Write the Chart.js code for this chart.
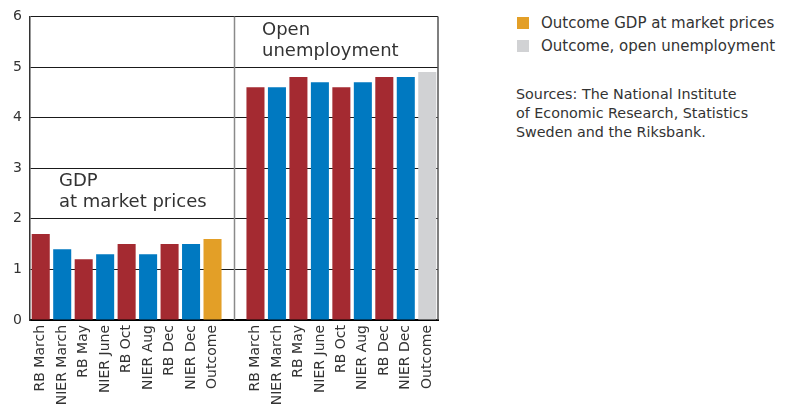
<!DOCTYPE html>
<html>
<head>
<meta charset="utf-8">
<script src="https://cdn.jsdelivr.net/npm/chart.js@4/dist/chart.umd.min.js"></script>
<style>
  body{margin:0;background:#fff;font-family:"DejaVu Sans",sans-serif;color:#333;}
  #wrap{position:relative;width:790px;height:405px;overflow:hidden;}
  #box{position:absolute;left:0;top:0;width:450px;height:405px;}
  .note{position:absolute;color:#333;white-space:nowrap;}
  .leg{position:absolute;left:517px;font-size:15px;line-height:20px;color:#333;white-space:nowrap;}
  .leg span{display:inline-block;width:12px;height:12px;margin-right:12px;vertical-align:-1px;}
</style>
</head>
<body>
<div id="wrap">
  <div id="box"><canvas id="chart"></canvas></div>
  <div class="note" style="left:59px;top:169px;font-size:18px;line-height:21px;">GDP<br>at market prices</div>
  <div class="note" style="left:262px;top:18px;font-size:18px;line-height:21px;">Open<br>unemployment</div>
  <div class="leg" style="top:13px;"><span style="background:#e39f27"></span>Outcome GDP at market prices</div>
  <div class="leg" style="top:36px;"><span style="background:#d1d2d4"></span>Outcome, open unemployment</div>
  <div class="note" style="left:516px;top:85px;font-size:14.3px;line-height:19px;">Sources: The National Institute<br>of Economic Research, Statistics<br>Sweden and the Riksbank.</div>
</div>
<script>
const forecastLabels = ["RB March","NIER March","RB May","NIER June","RB Oct","NIER Aug","RB Dec","NIER Dec","Outcome"];
const gdpValues   = [1.7, 1.4, 1.2, 1.3, 1.5, 1.3, 1.5, 1.5, 1.6];
const unempValues = [4.6, 4.6, 4.8, 4.7, 4.6, 4.7, 4.8, 4.8, 4.9];
const yTicks = [0, 1, 2, 3, 4, 5, 6];

const RED = "#a42a31", BLUE = "#0079c1", ORANGE = "#e39f27", GREY = "#d1d2d4";

// colours: RB red, NIER blue, outcome orange/grey
function colourFor(lbl, outcome){
  if(lbl === "Outcome") return outcome;
  return lbl.startsWith("RB") ? RED : BLUE;
}

const labels = [...forecastLabels, "", ...forecastLabels];
const values = [...gdpValues, null, ...unempValues];
const colours = [
  ...forecastLabels.map(l=>colourFor(l, ORANGE)),
  "rgba(0,0,0,0)",
  ...forecastLabels.map(l=>colourFor(l, GREY))
];

// divider between the two groups + right border of the plot
const framePlugin = {
  id: "frame",
  beforeDatasetsDraw(chart){
    const {ctx, chartArea, scales} = chart;
    const xMid = Math.round(scales.x.getPixelForValue(forecastLabels.length)) + 0.5;
    ctx.save();
    ctx.strokeStyle = "#8a8a8a";
    ctx.lineWidth = 1.5;
    ctx.beginPath();
    ctx.moveTo(xMid, chartArea.top);
    ctx.lineTo(xMid, chartArea.bottom);
    ctx.stroke();
    ctx.strokeStyle = "#555";
    ctx.lineWidth = 1.5;
    ctx.beginPath();
    ctx.moveTo(chartArea.right, chartArea.top);
    ctx.lineTo(chartArea.right, chartArea.bottom);
    ctx.stroke();
    ctx.restore();
  }
};

new Chart(document.getElementById("chart").getContext("2d"), {
  type: "bar",
  data: {
    labels: labels,
    datasets: [{
      data: values,
      backgroundColor: colours,
      barPercentage: 0.84,
      categoryPercentage: 1.0
    }]
  },
  options: {
    responsive: true,
    maintainAspectRatio: false,
    animation: false,
    layout: { padding: { top: 16, right: 12, left: 0, bottom: 0 } },
    plugins: { legend: { display: false }, tooltip: { enabled: false } },
    scales: {
      x: {
        grid: { display: false, drawTicks: false },
        border: { color: "#000", width: 2 },
        ticks: {
          autoSkip: false, minRotation: 90, maxRotation: 90, padding: 5,
          color: "#333", font: { family: "DejaVu Sans", size: 14 }
        },
        afterFit(scale){ scale.height = 85; }
      },
      y: {
        min: 0, max: 6,
        afterBuildTicks(scale){ scale.ticks = yTicks.map(v=>({value:v})); },
        grid: { color: "#1a1a1a", lineWidth: 1, drawTicks: false },
        border: { color: "#333", width: 1.5 },
        ticks: { padding: 8, color: "#333", font: { family: "DejaVu Sans", size: 14 } },
        afterFit(scale){ scale.width = 30; }
      }
    }
  },
  plugins: [framePlugin]
});
</script>
</body>
</html>
